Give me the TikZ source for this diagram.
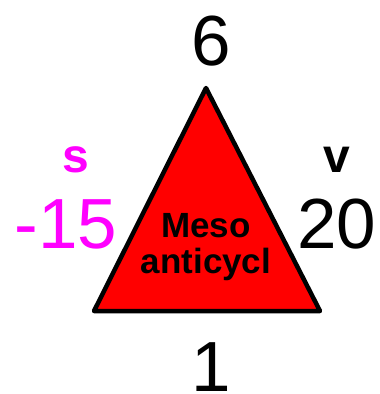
\documentclass[tikz,border=0pt]{standalone}
\usepackage{fontspec}
\setmainfont{Liberation Sans}
\definecolor{mag}{HTML}{FF00FF}
\definecolor{trired}{HTML}{FF0000}
\usetikzlibrary{positioning}

\begin{document}
\begin{tikzpicture}[
  x=1pt, y=-1pt,
  num/.style={anchor=base, inner sep=0pt, font=\fontsize{71}{71}\selectfont},
  tag/.style={anchor=base, inner sep=0pt, font=\fontsize{48}{48}\selectfont\bfseries},
  lbl/.style={anchor=base, align=center, inner sep=0pt,
              font=\fontsize{35}{36}\selectfont\bfseries},
  tri/.style={draw=black, fill=trired, line width=4.5pt, line join=round}
]
\useasboundingbox (0,0) rectangle (380,394);

% triangle
\coordinate (top) at (206,88);
\coordinate (bl) at (94,311);
\coordinate (br) at (320,311);
\draw[tri] (top) -- (br) -- (bl) -- cycle;
\node[lbl] (name) at (206,273) {Meso\\anticycl};

% values
\node[num] (n6) at (211,65) {6};
\node[num] (n1) at (211,391) {1};
\node[num, mag] (sval) at (66,248) {-15};
\node[num] (vval) at (337,248) {20};
\node[tag, mag] (s) at (76,172) {s};
\node[tag] (v) at (337,172) {v};
\end{tikzpicture}
\end{document}
